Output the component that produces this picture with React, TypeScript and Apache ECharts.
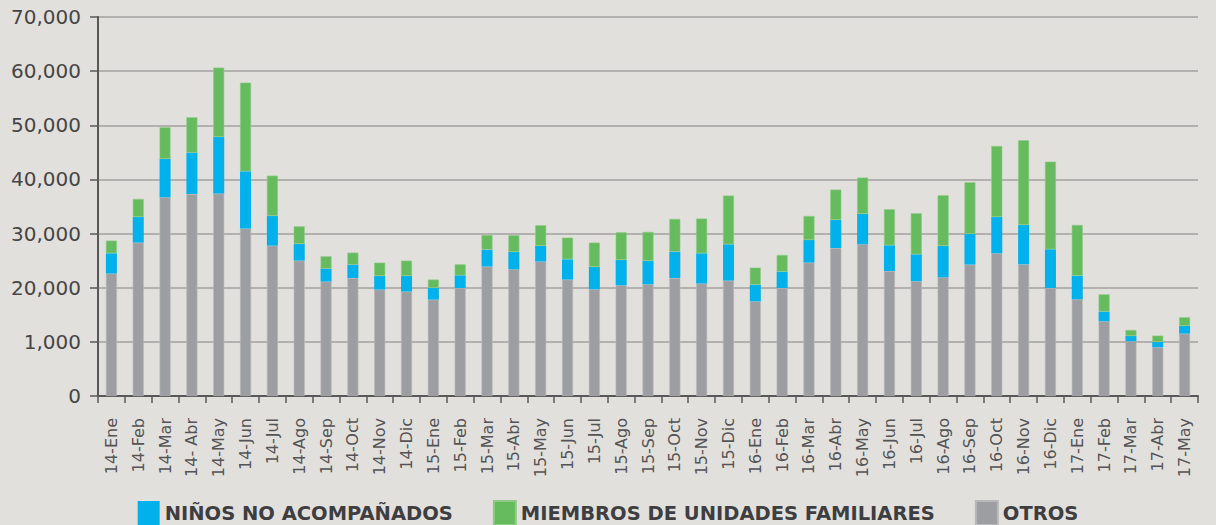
import React, { useEffect, useRef } from "react";
import * as echarts from "echarts";

const categories = [
  "14-Ene", "14-Feb", "14-Mar", "14- Abr", "14-May", "14-Jun", "14-Jul", "14-Ago", "14-Sep", "14-Oct", "14-Nov", "14-Dic",
  "15-Ene", "15-Feb", "15-Mar", "15-Abr", "15-May", "15-Jun", "15-Jul", "15-Ago", "15-Sep", "15-Oct", "15-Nov", "15-Dic",
  "16-Ene", "16-Feb", "16-Mar", "16-Abr", "16-May", "16-Jun", "16-Jul", "16-Ago", "16-Sep", "16-Oct", "16-Nov", "16-Dic",
  "17-Ene", "17-Feb", "17-Mar", "17-Abr", "17-May",
];

const otros = [
  22610, 28330, 36700, 37310, 37380, 30920, 27770, 25000, 21120, 21800, 19650, 19280,
  17800, 19950, 23900, 23400, 24820, 21500, 19700, 20450, 20630, 21800, 20760, 21310,
  17490, 19950, 24630, 27340, 28020, 23090, 21190, 21920, 24270, 26360, 24330, 19950,
  17860, 13800, 10100, 9000, 11520,
];

const ninos = [
  3750, 4730, 7080, 7640, 10460, 10580, 5480, 3080, 2410, 2470, 2510, 2880,
  2150, 2340, 3140, 3200, 2890, 3750, 4130, 4670, 4310, 4870, 5600, 6710,
  3080, 3020, 4180, 5170, 5600, 4750, 4980, 5790, 5650, 6700, 7260, 7150,
  4370, 1790, 980, 970, 1410,
];

const miembros = [
  2340, 3330, 5850, 6530, 12810, 16380, 7450, 3260, 2270, 2210, 2470, 2840,
  1550, 2030, 2700, 3080, 3820, 4000, 4500, 5120, 5360, 6030, 6410, 8990,
  3140, 3070, 4440, 5610, 6720, 6650, 7580, 9360, 9550, 13120, 15640, 16190,
  9360, 3190, 1110, 1180, 1610,
];

const yTickLabels: Record<number, string> = {
  0: "0",
  10000: "1,000",
  20000: "20,000",
  30000: "30,000",
  40000: "40,000",
  50000: "50,000",
  60000: "60,000",
  70000: "70,000",
};

const seriesNames = ["NIÑOS NO ACOMPAÑADOS", "MIEMBROS DE UNIDADES FAMILIARES", "OTROS"];

export default function App() {
  const ref = useRef<HTMLDivElement>(null);

  useEffect(() => {
    if (!ref.current) return;
    const chart = echarts.init(ref.current, undefined, { renderer: "svg" });
    const font = "DejaVu Sans";
    chart.setOption({
      animation: false,
      backgroundColor: "#e2e0dc",
      grid: { left: 98, right: 18, top: 17, bottom: 129, containLabel: false },
      legend: {
        data: seriesNames,
        left: "center",
        top: 500,
        padding: 0,
        itemWidth: 22,
        itemHeight: 24,
        itemGap: 40,
        icon: "rect",
        textStyle: {
          fontFamily: font,
          fontWeight: "bold",
          fontSize: 19.5,
          color: "#3e3e41",
        },
      },
      xAxis: {
        type: "category",
        data: categories,
        boundaryGap: true,
        axisLine: { show: true, lineStyle: { color: "#58585a", width: 2 } },
        axisTick: { show: true, length: 7, lineStyle: { color: "#58585a", width: 1.5 } },
        axisLabel: {
          rotate: 90,
          interval: 0,
          margin: 22,
          fontFamily: font,
          fontSize: 16,
          color: "#545456",
        },
      },
      yAxis: {
        type: "value",
        min: 0,
        max: 70000,
        interval: 10000,
        axisLine: { show: true, lineStyle: { color: "#58585a", width: 2 } },
        axisTick: { show: true, length: 8, lineStyle: { color: "#58585a", width: 1.5 } },
        splitLine: { show: true, lineStyle: { color: "#a3a2a2", width: 1.5 } },
        axisLabel: {
          margin: 17,
          fontFamily: font,
          fontSize: 20,
          color: "#454547",
          formatter: (v: number) => yTickLabels[v] ?? String(v),
        },
      },
      series: [
        {
          name: "OTROS",
          type: "bar",
          stack: "total",
          data: otros,
          barWidth: 11,
          itemStyle: { color: "#9d9ea2", borderColor: "#b9b9ba", borderWidth: 0.6 },
        },
        {
          name: "NIÑOS NO ACOMPAÑADOS",
          type: "bar",
          stack: "total",
          data: ninos,
          barWidth: 11,
          itemStyle: { color: "#00b1eb" },
        },
        {
          name: "MIEMBROS DE UNIDADES FAMILIARES",
          type: "bar",
          stack: "total",
          data: miembros,
          barWidth: 11,
          itemStyle: { color: "#65bb5e", borderColor: "#8fcb86", borderWidth: 0.6 },
        },
      ],
    });
    return () => chart.dispose();
  }, []);

  return (
    <div
      ref={ref}
      style={{ position: "fixed", left: 0, top: 0, width: 1216, height: 525 }}
    />
  );
}
